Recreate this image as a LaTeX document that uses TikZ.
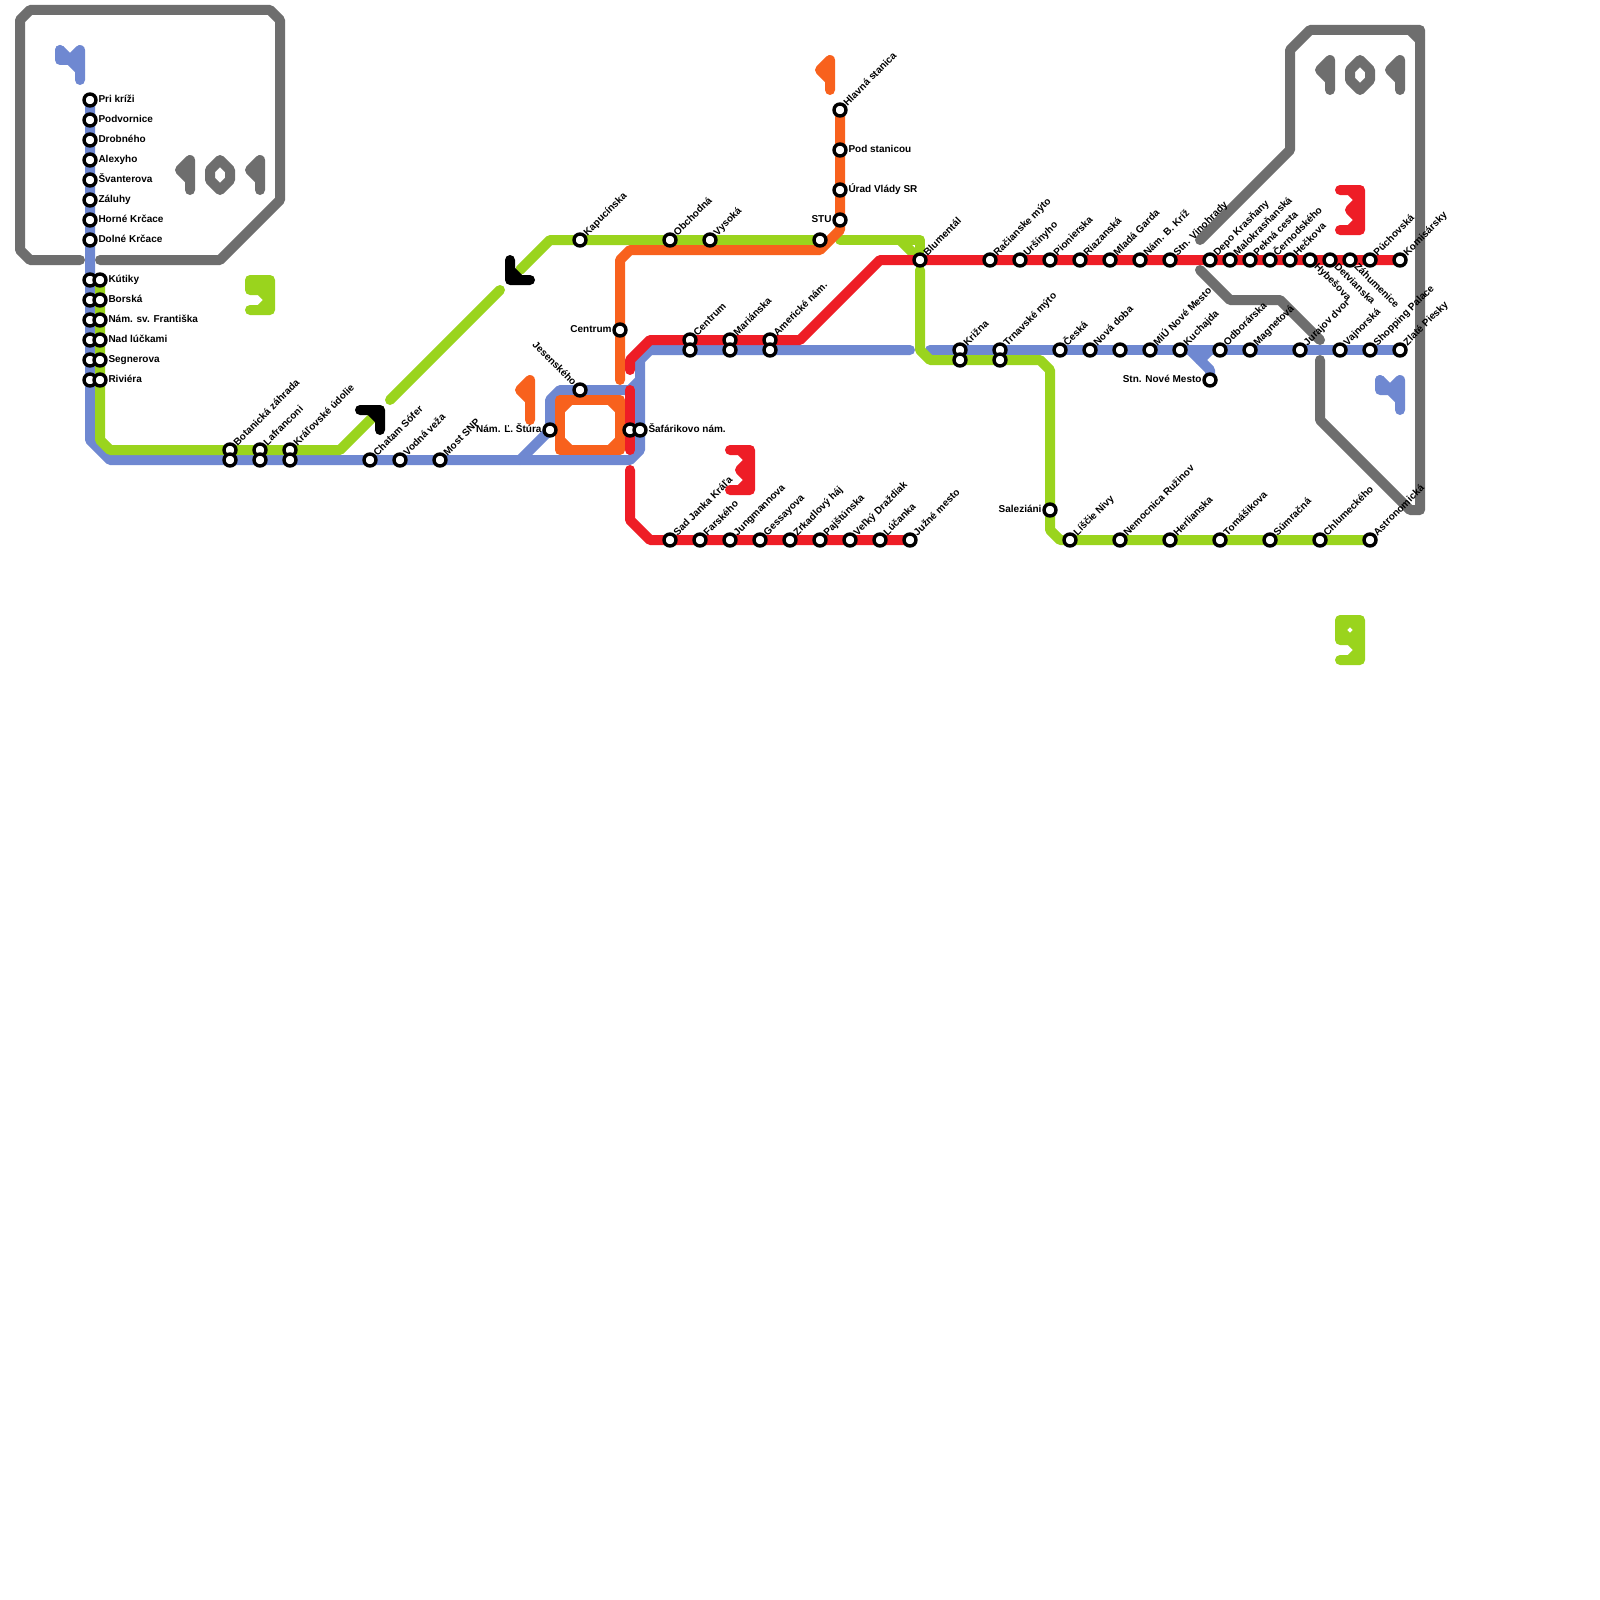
\documentclass[tikz,border=0pt]{standalone}
\usepackage{fontspec}
\setmainfont{Liberation Sans}
\usetikzlibrary{backgrounds}
\definecolor{lineblue}{HTML}{6F88D1}
\definecolor{linegreen}{HTML}{9AD41D}
\definecolor{lineorange}{HTML}{F8611D}
\definecolor{linered}{HTML}{EE1D26}
\definecolor{zonegray}{HTML}{6E6E6E}
\tikzset{
  metro/.style={line width=5pt, line cap=round, line join=round},
  stop/.style={circle, draw=black, fill=white, line width=1.7pt, inner sep=0pt, minimum size=6pt},
  txt/.style={font=\fontsize{5}{6}\selectfont\bfseries, text=black, inner sep=0pt, text height=3.7pt, text depth=1.1pt},
  lbe/.style={txt, anchor=west, label distance=0.2pt},
  lbw/.style={txt, anchor=east, label distance=0.2pt},
  lbne/.style={txt, rotate=45, anchor=west, label distance=0pt},
  lbse/.style={txt, rotate=-45, anchor=west, label distance=0pt},
  lbnw/.style={txt, rotate=-45, anchor=east, label distance=0pt}
}
\begin{document}
\begin{tikzpicture}[x=0.5pt, y=-0.5pt]
  \useasboundingbox (0,0) rectangle (1600,1600);

  % Linka modra, zapad
  \node[stop, label={[lbe]0:Pri kríži}] (prikrizi) at (90,100) {};
  \node[stop, label={[lbe]0:Podvornice}] (podvornice) at (90,120) {};
  \node[stop, label={[lbe]0:Drobného}] (drobneho) at (90,140) {};
  \node[stop, label={[lbe]0:Alexyho}] (alexyho) at (90,160) {};
  \node[stop, label={[lbe]0:Švanterova}] (svanterova) at (90,180) {};
  \node[stop, label={[lbe]0:Záluhy}] (zaluhy) at (90,200) {};
  \node[stop, label={[lbe]0:Horné Krčace}] (hornekrcace) at (90,220) {};
  \node[stop, label={[lbe]0:Dolné Krčace}] (dolnekrcace) at (90,240) {};
  \node[stop] (kutikyb) at (90,280) {};
  \node[stop] (borskab) at (90,300) {};
  \node[stop] (frantiskab) at (90,320) {};
  \node[stop] (luckamib) at (90,340) {};
  \node[stop] (segnerovab) at (90,360) {};
  \node[stop] (rivierab) at (90,380) {};

  % Linka zelena, spolocny usek
  \node[stop, label={[lbe]0:Kútiky}] (kutiky) at (100,280) {};
  \node[stop, label={[lbe]0:Borská}] (borska) at (100,300) {};
  \node[stop, label={[lbe]0:Nám. sv. Františka}] (frantiska) at (100,320) {};
  \node[stop, label={[lbe]0:Nad lúčkami}] (luckami) at (100,340) {};
  \node[stop, label={[lbe]0:Segnerova}] (segnerova) at (100,360) {};
  \node[stop, label={[lbe]0:Riviéra}] (riviera) at (100,380) {};
  \node[stop, label={[lbne]45:Botanická záhrada}] (botanicka) at (230,450) {};
  \node[stop] (botanickab) at (230,460) {};
  \node[stop, label={[lbne]45:Lafranconi}] (lafranconi) at (260,450) {};
  \node[stop] (lafranconib) at (260,460) {};
  \node[stop, label={[lbne]45:Kráľovské údolie}] (kralovske) at (290,450) {};
  \node[stop] (kralovskeb) at (290,460) {};

  % Modra, stred
  \node[stop, label={[lbne]45:Chatam Sófer}] (chatam) at (370,460) {};
  \node[stop, label={[lbne]45:Vodná veža}] (vodnaveza) at (400,460) {};
  \node[stop, label={[lbne]45:Most SNP}] (mostsnp) at (440,460) {};
  \node[stop, label={[lbw]180:Nám. Ľ. Štúra}] (stura) at (550,430) {};
  \node[stop, label={[lbnw]135:Jesenského}] (jesenskeho) at (580,390) {};
  \node[stop] (safarikovoc) at (630,430) {};
  \node[stop, label={[lbe]0:Šafárikovo nám.}] (safarikovo) at (640,430) {};

  % Zelena, sever
  \node[stop, label={[lbne]45:Kapucínska}] (kapucinska) at (580,240) {};
  \node[stop, label={[lbne]45:Obchodná}] (obchodna) at (670,240) {};
  \node[stop, label={[lbne]45:Vysoká}] (vysoka) at (710,240) {};
  \node[stop] (stuzel) at (820,240) {};

  % Oranzova
  \node[stop, label={[lbw]180:Centrum}] (centrumo) at (620,330) {};
  \node[stop, label={[lbne]45:Hlavná stanica}] (hlavna) at (840,110) {};
  \node[stop, label={[lbe]0:Pod stanicou}] (podstanicou) at (840,150) {};
  \node[stop, label={[lbe]0:Úrad Vlády SR}] (uradvlady) at (840,190) {};
  \node[stop, label={[lbw]180:STU}] (stu) at (840,220) {};

  % Cervena, stred
  \node[stop, label={[lbne]45:Centrum}] (centrum) at (690,340) {};
  \node[stop] (centrumb) at (690,350) {};
  \node[stop, label={[lbne]45:Mariánska}] (marianska) at (730,340) {};
  \node[stop] (marianskab) at (730,350) {};
  \node[stop, label={[lbne]45:Americké nám.}] (americke) at (770,340) {};
  \node[stop] (americkeb) at (770,350) {};

  % Cervena, juh
  \node[stop, label={[lbne]45:Sad Janka Kráľa}] (sadjanka) at (670,540) {};
  \node[stop, label={[lbne]45:Farského}] (farskeho) at (700,540) {};
  \node[stop, label={[lbne]45:Jungmannova}] (jungmannova) at (730,540) {};
  \node[stop, label={[lbne]45:Gessayova}] (gessayova) at (760,540) {};
  \node[stop, label={[lbne]45:Zrkadlový háj}] (zrkadlovy) at (790,540) {};
  \node[stop, label={[lbne]45:Pajštúnska}] (pajstunska) at (820,540) {};
  \node[stop, label={[lbne]45:Veľký Draždiak}] (drazdiak) at (850,540) {};
  \node[stop, label={[lbne]45:Lúčanka}] (lucanka) at (880,540) {};
  \node[stop, label={[lbne]45:Južné mesto}] (juznemesto) at (910,540) {};

  % Cervena, vychod
  \node[stop, label={[lbne]45:Blumentál}] (blumental) at (920,260) {};
  \node[stop, label={[lbne]45:Račianske mýto}] (racianske) at (990,260) {};
  \node[stop, label={[lbne]45:Uršínyho}] (ursinyho) at (1020,260) {};
  \node[stop, label={[lbne]45:Pionierska}] (pionierska) at (1050,260) {};
  \node[stop, label={[lbne]45:Riazanská}] (riazanska) at (1080,260) {};
  \node[stop, label={[lbne]45:Mladá Garda}] (mladagarda) at (1110,260) {};
  \node[stop, label={[lbne]45:Nám. B. Kríž}] (bkriz) at (1140,260) {};
  \node[stop, label={[lbne]45:Stn. Vinohrady}] (vinohrady) at (1170,260) {};
  \node[stop, label={[lbne]45:Depo Krasňany}] (depo) at (1210,260) {};
  \node[stop, label={[lbne]45:Malokrasňanská}] (malokrasnanska) at (1230,260) {};
  \node[stop, label={[lbne]45:Pekná cesta}] (peknacesta) at (1250,260) {};
  \node[stop, label={[lbne]45:Černodského}] (cernodskeho) at (1270,260) {};
  \node[stop, label={[lbne]45:Hečkova}] (heckova) at (1290,260) {};
  \node[stop, label={[lbse]-45:Hybešova}] (hybesova) at (1310,260) {};
  \node[stop, label={[lbse]-45:Detvianska}] (detvianska) at (1330,260) {};
  \node[stop, label={[lbse]-45:Záhumenice}] (zahumenice) at (1350,260) {};
  \node[stop, label={[lbne]45:Púchovská}] (puchovska) at (1370,260) {};
  \node[stop, label={[lbne]45:Komisársky}] (komisarsky) at (1400,260) {};

  % Modra, vychod
  \node[stop, label={[lbne]45:Križna}] (krizna) at (960,350) {};
  \node[stop] (kriznaz) at (960,360) {};
  \node[stop, label={[lbne]45:Trnavské mýto}] (trnavske) at (1000,350) {};
  \node[stop] (trnavskez) at (1000,360) {};
  \node[stop, label={[lbne]45:Česká}] (ceska) at (1060,350) {};
  \node[stop, label={[lbne]45:Nová doba}] (novadoba) at (1090,350) {};
  \node[stop] (bezmena) at (1120,350) {};
  \node[stop, label={[lbne]45:MiÚ Nové Mesto}] (miu) at (1150,350) {};
  \node[stop, label={[lbne]45:Kuchajda}] (kuchajda) at (1180,350) {};
  \node[stop, label={[lbw]180:Stn. Nové Mesto}] (novemesto) at (1210,380) {};
  \node[stop, label={[lbne]45:Odborárska}] (odborarska) at (1220,350) {};
  \node[stop, label={[lbne]45:Magnetová}] (magnetova) at (1250,350) {};
  \node[stop, label={[lbne]45:Jurajov dvor}] (jurajov) at (1300,350) {};
  \node[stop, label={[lbne]45:Vajnorská}] (vajnorska) at (1340,350) {};
  \node[stop, label={[lbne]45:Shopping Palace}] (shopping) at (1370,350) {};
  \node[stop, label={[lbne]45:Zlaté Piesky}] (zlate) at (1400,350) {};

  % Zelena, juhovychod
  \node[stop, label={[lbw]180:Saleziáni}] (saleziani) at (1050,510) {};
  \node[stop, label={[lbne]45:Líščie Nivy}] (liscie) at (1070,540) {};
  \node[stop, label={[lbne]45:Nemocnica Ružinov}] (nemocnica) at (1120,540) {};
  \node[stop, label={[lbne]45:Herlianska}] (herlianska) at (1170,540) {};
  \node[stop, label={[lbne]45:Tomášikova}] (tomasikova) at (1220,540) {};
  \node[stop, label={[lbne]45:Súmračná}] (sumracna) at (1270,540) {};
  \node[stop, label={[lbne]45:Chlumeckého}] (chlumeckeho) at (1320,540) {};
  \node[stop, label={[lbne]45:Astronomická}] (astronomicka) at (1370,540) {};

  \begin{scope}[on background layer]
    \fill[white] (0,0) rectangle (1600,1600);

    % Tarifne pasma
    \draw[metro, zonegray] (80,260) -- (30,260) -- (20,250) -- (20,20) -- (30,10) -- (270,10) -- (280,20) -- (280,200) -- (220,260) -- (100,260);
    \draw[metro, zonegray] (1200,240) -- (1290,150) -- (1290,50) -- (1310,30) -- (1420,30) -- (1420,510) -- (1410,510) -- (1320,420) -- (1320,360);
    \draw[metro, zonegray] (1410,30) -- (1420,40);
    \draw[metro, zonegray] (1200,270) -- (1230,300) -- (1280,300) -- (1320,340);

    % Cislo 101, zapad
    \draw[metro, zonegray] (190,190) -- (190,160) -- (180,170) -- (190,180);
    \draw[metro, zonegray] (220,160) -- (210,170) -- (210,180) -- (220,190) -- (230,180) -- (230,170) -- cycle;
    \draw[metro, zonegray] (260,190) -- (260,160) -- (250,170) -- (260,180);

    % Cislo 101, vychod
    \draw[metro, zonegray] (1330,90) -- (1330,60) -- (1320,70) -- (1330,80);
    \draw[metro, zonegray] (1360,60) -- (1350,70) -- (1350,80) -- (1360,90) -- (1370,80) -- (1370,70) -- cycle;
    \draw[metro, zonegray] (1400,90) -- (1400,60) -- (1390,70) -- (1400,80);

    % Modra
    \draw[metro, lineblue] (prikrizi.center) -- (90,440) -- (110,460) -- (630,460) -- (640,450) -- (640,360) -- (650,350) -- (910,350);
    \draw[metro, lineblue] (520,460) -- (stura.center) -- (550,400) -- (560,390) -- (630,390) -- (640,380);
    \draw[metro, lineblue] (930,350) -- (zlate.center);
    \draw[metro, lineblue] (1190,350) -- (1210,370) -- (novemesto.center);
    \draw[metro, lineblue] (1210,350) -- (1200,360);

    % Cislo 4
    \draw[metro, lineblue] (60,50) -- (60,60) -- (70,60) -- (80,70);
    \draw[metro, lineblue] (60,50) -- (70,60) -- (80,50) -- (80,80);
    \draw[metro, lineblue] (1380,380) -- (1380,390) -- (1390,390) -- (1400,400);
    \draw[metro, lineblue] (1380,380) -- (1390,390) -- (1400,380) -- (1400,410);

    % Zelena
    \draw[metro, linegreen] (kutiky.center) -- (100,440) -- (110,450) -- (340,450) -- (380,410);
    \draw[metro, linegreen] (390,400) -- (500,290);
    \draw[metro, linegreen] (520,270) -- (550,240) -- (stuzel.center);
    \draw[metro, linegreen] (840,240) -- (920,240) -- (920,250);
    \draw[metro, linegreen] (900,240) -- (blumental.center);
    \draw[metro, linegreen] (920,270) -- (920,350) -- (930,360) -- (1040,360) -- (1050,370) -- (1050,530) -- (1060,540) -- (astronomicka.center);

    % Cisla 5 a 9
    \draw[metro, linegreen, fill=linegreen] (250,280) -- (270,280) -- (270,310) -- (250,310) -- (260,310) -- (270,300) -- (260,290) -- (250,290) -- cycle;
    \draw[metro, linegreen] (1340,620) -- (1360,620) -- (1360,660) -- (1340,660) -- (1350,660) -- (1360,650) -- (1350,640) -- (1340,640) -- cycle;
    \draw[metro, linegreen] (1350,620) -- (1360,630) -- (1350,640) -- (1340,630) -- cycle;

    % Oranzova
    \draw[metro, lineorange] (620,380) -- (centrumo.center) -- (620,260) -- (630,250) -- (820,250) -- (840,230) -- (hlavna.center);
    \draw[metro, lineorange] (560,400) -- (620,400) -- (620,450) -- (560,450) -- cycle;
    \draw[metro, lineorange] (560,410) -- (570,400);
    \draw[metro, lineorange] (610,400) -- (620,410);
    \draw[metro, lineorange] (620,440) -- (610,450);
    \draw[metro, lineorange] (570,450) -- (560,440);

    % Cisla 1
    \draw[metro, lineorange] (830,90) -- (830,60) -- (820,70) -- (830,80);
    \draw[metro, lineorange] (530,420) -- (530,380) -- (520,390) -- (530,400);

    % Cervena
    \draw[metro, linered] (630,370) -- (630,360) -- (650,340) -- (800,340) -- (880,260) -- (komisarsky.center);
    \draw[metro, linered] (630,390) -- (630,450);
    \draw[metro, linered] (630,470) -- (630,520) -- (650,540) -- (juznemesto.center);

    % Cisla 3
    \draw[metro, linered, fill=linered] (1340,190) -- (1360,190) -- (1360,230) -- (1340,230) -- (1350,230) -- (1360,220) -- (1350,210) -- (1360,200) -- (1350,190) -- cycle;
    \draw[metro, linered, fill=linered] (730,450) -- (750,450) -- (750,490) -- (730,490) -- (740,490) -- (750,480) -- (740,470) -- (750,460) -- (740,450) -- cycle;

    % Sipky
    \draw[metro, black, fill=black] (360,410) -- (380,410) -- (380,430) -- (380,420) -- (370,410) -- cycle;
    \draw[metro, black, fill=black] (510,260) -- (510,280) -- (530,280) -- (520,280) -- (510,270) -- cycle;
  \end{scope}
\end{tikzpicture}
\end{document}
